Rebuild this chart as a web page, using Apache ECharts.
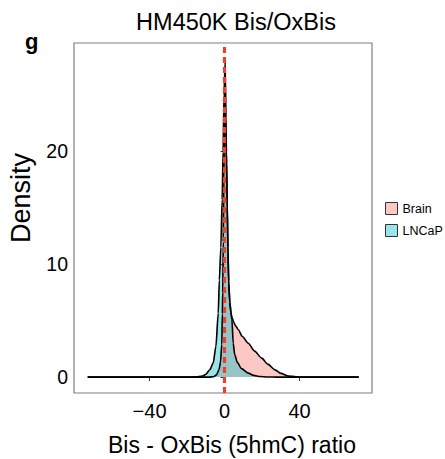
<!DOCTYPE html>
<html>
<head>
<meta charset="utf-8">
<script src="https://cdn.jsdelivr.net/npm/echarts@6/dist/echarts.min.js"></script>
<style>
  html, body { margin: 0; padding: 0; background: #fff; }
  #chart { width: 445px; height: 459px; }
</style>
</head>
<body>
<div id="chart"></div>
<script>
// Kernel density of the Bis - OxBis (5hmC) ratio, per sample
const brainX = [-73, -20, -8, -6, -4.3, -3, -2.2, -1.5, -1.2, -1.0, -0.7, -0.4, -0.1, 0.3, 0.7, 1.0, 1.4, 1.8, 2.2, 2.8, 3.4, 3.9, 4.8, 5.8, 7.3, 9.5, 12.6, 16, 19.8, 23, 26.9, 30, 34, 38, 42, 71.5];
const brainDensity = [0, 0, 0, 0.03, 0.2, 0.65, 1.3, 2.9, 5.6, 7.5, 12, 17.5, 23, 28.2, 22, 19, 15, 11, 8.3, 6.6, 5.7, 5.3, 4.9, 4.55, 4.2, 3.6, 3.0, 2.3, 1.68, 1.15, 0.64, 0.33, 0.1, 0.02, 0, 0];

const lncapX = [-73, -20, -15, -12.5, -11.4, -10, -7.9, -6.1, -4.65, -3.4, -2.8, -2.0, -1.3, -0.8, -0.3, 0.2, 0.6, 1.0, 1.4, 1.8, 2.2, 2.8, 3.4, 3.9, 4.6, 5.4, 6.8, 9, 12.6, 15.5, 18.9, 23, 28, 71.5];
const lncapDensity = [0, 0, 0.02, 0.07, 0.12, 0.25, 0.65, 1.24, 2.7, 5.65, 8.6, 11.5, 15.7, 20, 25, 27.5, 23, 20, 15.5, 11.5, 8.5, 6.6, 5.7, 5.1, 3.0, 2.0, 1.3, 0.75, 0.35, 0.15, 0.05, 0.01, 0, 0];

const xTicks = [-40, 0, 40];
const yTicks = [0, 10, 20];
const seriesNames = ['Brain', 'LNCaP'];
const fillColors = ['#F8766D', '#00BFC4'];
const cutoff = 0;

const pairs = (xs, ys) => xs.map((x, i) => [x, ys[i]]);

const chart = echarts.init(document.getElementById('chart'), null, { renderer: 'svg' });
const font = 'Liberation Sans, Arial, Helvetica, sans-serif';

const makeSeries = (name, data, color, withLine) => {
  const s = {
    name: name,
    type: 'line',
    data: data,
    showSymbol: false,
    symbol: 'none',
    smooth: 0.25,
    smoothMonotone: 'x',
    lineStyle: { color: '#000', width: 1.6 },
    itemStyle: { color: color },
    areaStyle: { color: color, opacity: 0.4 },
    emphasis: { disabled: true },
    silent: true
  };
  if (withLine) {
    s.markLine = {
      silent: true,
      symbol: ['none', 'none'],
      label: { show: false },
      z: 10,
      lineStyle: { color: '#F0402A', width: 3.2, type: [6, 4], opacity: 1 },
      data: [{ xAxis: cutoff }]
    };
  }
  return s;
};

chart.setOption({
  animation: false,
  backgroundColor: '#fff',
  textStyle: { fontFamily: font },
  title: [
    {
      text: 'HM450K Bis/OxBis',
      left: 231, top: 5, textAlign: 'center',
      textStyle: { fontFamily: font, fontSize: 23.5, fontWeight: 'normal', color: '#000' }
    },
    {
      text: 'g',
      left: 20, top: 25,
      textStyle: { fontFamily: font, fontSize: 22, fontWeight: 'bold', color: '#000' }
    }
  ],
  graphic: [
    {
      type: 'text', x: 21, y: 198, rotation: Math.PI / 2, silent: true,
      style: { text: 'Density', align: 'center', verticalAlign: 'middle',
        fontFamily: font, fontSize: 27, fill: '#000' }
    },
    {
      type: 'text', x: 232, y: 445, silent: true,
      style: { text: 'Bis - OxBis (5hmC) ratio', align: 'center', verticalAlign: 'middle',
        fontFamily: font, fontSize: 23, fill: '#000' }
    }
  ],
  legend: {
    orient: 'vertical',
    left: 380, top: 197,
    itemWidth: 12, itemHeight: 12, itemGap: 9,
    icon: 'rect',
    selectedMode: false,
    textStyle: { fontFamily: font, fontSize: 12.5, color: '#000' },
    data: seriesNames.map((n, i) => ({
      name: n,
      itemStyle: { color: echarts.color.modifyAlpha(fillColors[i], 0.4), borderColor: '#333', borderWidth: 1 }
    }))
  },
  grid: {
    left: 74, right: 73, top: 43, bottom: 66,
    outerBoundsMode: 'none',
    containLabel: false,
    show: true, borderColor: '#808080', borderWidth: 1.2, backgroundColor: 'transparent'
  },
  xAxis: {
    type: 'value',
    min: -80.3, max: 78.6,
    axisLine: { show: false },
    splitLine: { show: false },
    axisTick: { show: true, customValues: xTicks, length: 4, lineStyle: { color: '#333' } },
    axisLabel: { customValues: xTicks, margin: 8, fontFamily: font, fontSize: 20, color: '#000',
      formatter: v => (v < 0 ? '\u2212' + Math.abs(v) : String(v)) }
  },
  yAxis: {
    type: 'value',
    min: -1.41, max: 29.6,
    axisLine: { show: false },
    splitLine: { show: false },
    axisTick: { show: true, customValues: yTicks, length: 4, lineStyle: { color: '#333' } },
    axisLabel: { customValues: yTicks, margin: 6, fontFamily: font, fontSize: 19.5, color: '#000' }
  },
  series: [
    makeSeries(seriesNames[0], pairs(brainX, brainDensity), fillColors[0], false),
    makeSeries(seriesNames[1], pairs(lncapX, lncapDensity), fillColors[1], true)
  ]
});
</script>
</body>
</html>
